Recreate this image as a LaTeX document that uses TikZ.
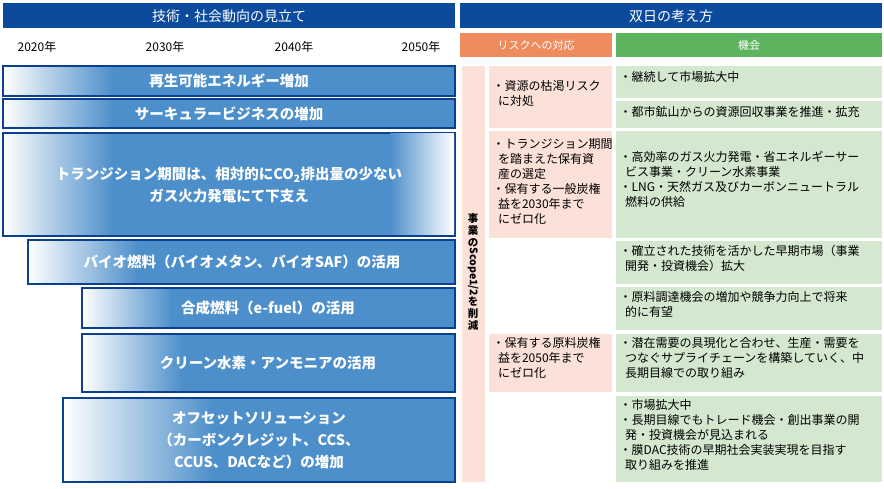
\documentclass[tikz,border=0pt]{standalone}
\usepackage{fontspec}
\setmainfont{Noto Sans CJK JP}
\definecolor{hdr}{HTML}{0B4A9C}
\definecolor{barb}{HTML}{4D8FCA}
\definecolor{bard}{HTML}{0B3F8F}
\definecolor{pinkc}{HTML}{FBE1D8}
\definecolor{grnc}{HTML}{D3E8CF}
\definecolor{orh}{HTML}{EF8C5E}
\definecolor{grh}{HTML}{5DB45E}
\begin{document}
\begin{tikzpicture}[x=1pt,y=-1pt,
 bartxt/.style={text=white,font=\fontsize{14.5}{22}\selectfont\bfseries,align=center},
 rt/.style={anchor=north west,align=left,inner sep=1.5pt,font=\fontsize{12}{15}\selectfont},
 yr/.style={font=\fontsize{12}{13}\selectfont}]
\useasboundingbox (0,0) rectangle (884,489);
\fill[hdr] (3,3) rectangle (455,28);
\node[text=white,font=\fontsize{14}{15}\selectfont] (h1) at (229,16) {技術・社会動向の見立て};
\fill[hdr] (460,3) rectangle (882,28);
\node[text=white,font=\fontsize{14}{15}\selectfont] (h2) at (671,16) {双日の考え方};
\node[yr] (y1) at (37,47) {2020年};
\node[yr] (y2) at (165,47) {2030年};
\node[yr] (y3) at (294,47) {2040年};
\node[yr] (y4) at (421,47) {2050年};
\fill[orh] (460,33) rectangle (612,57);
\node[text=white,font=\fontsize{11}{12}\selectfont] (h3) at (536,45) {リスクへの対応};
\fill[grh] (616,33) rectangle (882,57);
\node[text=white,font=\fontsize{11}{12}\selectfont] (h4) at (749,45) {機会};
% bars
\foreach \xa/\ya/\yb/\w in {3/66/96/110, 3/99/128/110, 3/133/236/110, 28/240/284/110, 82/288/328/90, 82/334/392/100, 63/398/482/150}{
  \fill[barb] (\xa,\ya) rectangle (455,\yb);
  \shade[left color=white,right color=barb] (\xa,\ya) rectangle ({\xa+\w},\yb);
  \draw[bard,line width=1.6pt] (\xa,\ya) rectangle (455,\yb);
}
\shade[left color=barb,right color=white] (390,134) rectangle (454,235);
\node[bartxt] (b1) at (229,81) {再生可能エネルギー増加};
\node[bartxt] (b2) at (229,114) {サーキュラービジネスの増加};
\node[bartxt] (b3) at (229,185) {トランジション期間は、相対的にCO\textsubscript{2}排出量の少ない\\ガス火力発電にて下支え};
\node[bartxt] (b4) at (242,262) {バイオ燃料（バイオメタン、バイオSAF）の活用};
\node[bartxt] (b5) at (268,308) {合成燃料（e-fuel）の活用};
\node[bartxt] (b6) at (268,363) {クリーン水素・アンモニアの活用};
\node[bartxt] (b7) at (259,440) {オフセットソリューション\\（カーボンクレジット、CCS、\\CCUS、DACなど）の増加};
% right
\fill[pinkc] (462,66) rectangle (485,482);
\node[align=center,font=\fontsize{10.5}{12}\selectfont\bfseries,inner sep=0] (v) at (473,272) {事\\業\\の\\\rotatebox[origin=c]{-90}{Scope1/2}\\を\\削\\減};
\fill[pinkc] (489,66) rectangle (612,128);
\fill[pinkc] (489,131) rectangle (612,238);
\fill[pinkc] (489,334) rectangle (612,392);
\node[rt] (r1) at (491,79) {・資源の枯渇リスク\\\ \ に対処};
\node[rt] (r2) at (491,137) {・トランジション期間\\\ \ を踏まえた保有資\\\ \ 産の選定\\・保有する一般炭権\\\ \ 益を2030年まで\\\ \ にゼロ化};
\node[rt] (r3) at (491,336) {・保有する原料炭権\\\ \ 益を2050年まで\\\ \ にゼロ化};
\foreach \ya/\yb in {66/98,101/128,131/238,241/284,287/330,334/392,396/482}{
  \fill[grnc] (616,\ya) rectangle (882,\yb);
}
\node[rt] (g1) at (618,70) {・継続して市場拡大中};
\node[rt] (g2) at (618,105) {・都市鉱山からの資源回収事業を推進・拡充};
\node[rt] (g3) at (618,150) {・高効率のガス火力発電・省エネルギーサー\\\ \ ビス事業・クリーン水素事業\\・LNG・天然ガス及びカーボンニュートラル\\\ \ 燃料の供給};
\node[rt] (g4) at (618,244) {・確立された技術を活かした早期市場（事業\\\ \ 開発・投資機会）拡大};
\node[rt] (g5) at (618,290) {・原料調達機会の増加や競争力向上で将来\\\ \ 的に有望};
\node[rt] (g6) at (618,336) {・潜在需要の具現化と合わせ、生産・需要を\\\ \ つなぐサプライチェーンを構築していく、中\\\ \ 長期目線での取り組み};
\node[rt] (g7) at (618,398) {・市場拡大中\\・長期目線でもトレード機会・創出事業の開\\\ \ 発・投資機会が見込まれる\\・膜DAC技術の早期社会実装実現を目指す\\\ \ 取り組みを推進};
\end{tikzpicture}
\end{document}
